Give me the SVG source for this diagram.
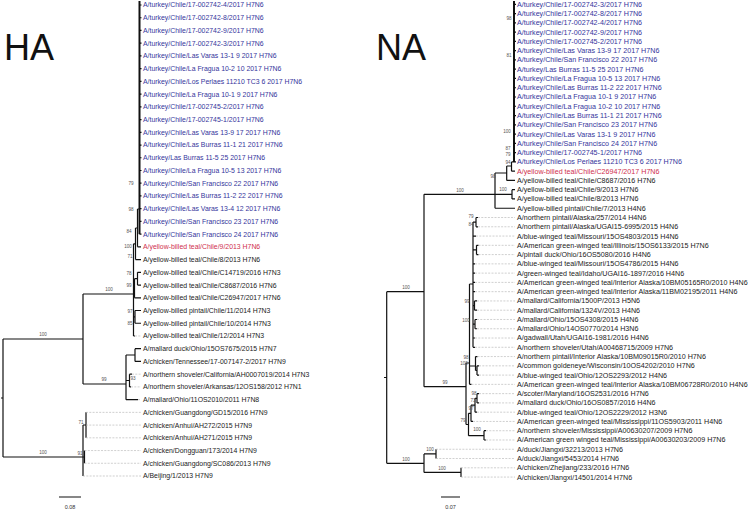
<svg xmlns="http://www.w3.org/2000/svg" width="750" height="511" viewBox="0 0 750 511">
<style>
.lb{font-family:"Liberation Sans",Arial,sans-serif;font-size:6.9px;fill:#222}
.na{font-size:7.15px}
.bl{fill:#35359c}
.rd{fill:#cf2f4e}
.sp{font-family:"Liberation Sans",Arial,sans-serif;font-size:4.6px;fill:#555;text-anchor:middle}
.ti{font-family:"Liberation Sans",Arial,sans-serif;font-size:36px;fill:#111}
.sc{font-family:"Liberation Sans",Arial,sans-serif;font-size:5.5px;fill:#333;text-anchor:middle}
.br{stroke:#111;stroke-width:1.2;fill:none}
.bt{stroke:#111;stroke-width:2;fill:none}
.ds{stroke:#b0b0b0;stroke-width:0.6;fill:none;stroke-dasharray:2 1.3}
</style>
<rect width="750" height="511" fill="#fff"/>
<text class="ti" x="4" y="60">HA</text>
<text class="ti" x="376" y="60">NA</text>

<g id="connectors">
<!-- HA tree -->
<path class="br" d="M1,398H3M3,339V457M3,339H83M83,294V384M83,294H133.5M83,384H126M3,457H83M83,425V476M83,425H86M86,412.36V437.82M83,457H84.5M84.5,450.55V463.28"/>
<path class="bt" d="M139.5,1V234.14"/>
<path class="br" d="M139.5,5H141.5M139.5,17.73H141.5M139.5,30.46H141.5M139.5,43.19H141.5M139.5,55.92H141.5M139.5,68.65H141.5M139.5,81.38H141.5M139.5,94.11H141.5M139.5,106.84H141.5M139.5,119.57H141.5M139.5,132.3H141.5M139.5,145.03H141.5M139.5,157.76H141.5M139.5,170.49H141.5M139.5,183.22H141.5M139.5,195.95H141.5M139.5,208.68H141.5M139.5,221.41H141.5M139.5,234.14H141.5"/>
<path class="br" d="M137.5,209V246.87M137.5,209H139.5M137.5,246.87H141M135.5,228V259.6M135.5,228H137.5M135.5,259.6H141M133.5,243.8V335.98M133.5,243.8H135.5M133.5,288H134.5M134.5,278.7V297.79M134.5,278.7H137.5M137.5,272.33V285.06M137.5,272.33H141M137.5,285.06H141M134.5,297.79H141M133.5,316.9H135M135,310.52V323.25M135,310.52H141M135,323.25H141M133.5,335.98H135"/>
<path class="br" d="M126,355V399.63M126,355H135M135,348.71V361.44M135,348.71H141M135,361.44H141M126,380.5H129.5M129.5,374.17V386.9M129.5,374.17H132M129.5,386.9H131M126,399.63H138"/>
<path class="ds" d="M135,335.98H141M132,374.17H141M131,386.9H141M138,399.63H141M86,412.36H141M86,425.09H141M86,437.82H141M84.5,450.55H141M84.5,463.28H141M83,476H141"/>
<!-- NA tree -->
<path class="br" d="M384,377.5H386.7M386.7,291.7V463.3M386.7,291.7H424M424,194.3V386.7M424,194.3H495M424,386.7H466M386.7,463.3H424M424,453.9V472.4M424,453.9H436M436,449.26V458.53M424,472.4H461M461,467.8V477.07"/>
<path class="br" d="M495,173V208.24M495,173H506.7M495,194.3H512M512,189.7V198.97M512,189.7H515M512,198.97H515M495,208.24H515M506.7,166V180.43M506.7,166H511.5M506.7,180.43H515M511.5,161.89V171.16M511.5,161.89H514M511.5,171.16H515"/>
<path class="bt" d="M514,1V161.89"/>
<path class="br" d="M514,4.3H516M514,13.57H516M514,22.84H516M514,32.11H516M514,41.38H516M514,50.65H516M514,59.92H516M514,69.19H516M514,78.46H516M514,87.73H516M514,97H516M514,106.27H516M514,115.54H516M514,124.81H516M514,134.08H516M514,143.35H516M514,152.62H516M514,161.89H516"/>
<path class="br" d="M466,363V424.5M466,363H469.5M469.5,284V384.37M469.5,284H473M469.5,366H475.5M469.5,384.37H471.5M473,222.1V347.29M473,222.1H476M476,217.51V226.78M476,217.51H478M476,226.78H478M473,236.05H476M473,249.95H476.5M476.5,245.32V254.59M476.5,245.32H478.5M476.5,254.59H478.5M473,263.86H475M473,273.13H475M473,282.4H475M473,291.67H475M473,305.6H474.5M474.5,300.94V310.21M474.5,300.94H477M474.5,310.21H477M473,324.1H475M475,319.48V328.75M475,319.48H477M475,328.75H477M473,338.02H475M473,347.29H475M475.5,356.56V370.5M475.5,356.56H477.5M475.5,370.5H477M477,365.83V375.1M477,365.83H479M477,375.1H479"/>
<path class="br" d="M466,424.5H468.5M468.5,413.3V435.7M468.5,413.3H471M471,405.2V421.45M471,405.2H475M471,421.45H473M475,398.3V412.18M475,398.3H477M475,412.18H477M477,393.64V402.91M477,393.64H479M477,402.91H479M468.5,435.7H484M484,430.72V439.99M484,430.72H486M484,439.99H486"/>
<path class="ds" d="M478,217.51H515M478,226.78H515M476,236.05H515M478.5,245.32H515M478.5,254.59H515M475,263.86H515M475,273.13H515M475,282.4H515M475,291.67H515M477,300.94H515M477,310.21H515M477,319.48H515M477,328.75H515M475,338.02H515M475,347.29H515M477.5,356.56H515M479,365.83H515M479,375.1H515M471.5,384.37H515M479,393.64H515M479,402.91H515M477,412.18H515M473,421.45H515M486,430.72H515M486,439.99H515M436,449.26H515M436,458.53H515M461,467.8H515M461,477.07H515"/>
<!-- scale bars -->
<path class="br" d="M59,497H81M441,497H460"/>
</g>

<g id="support-ha">
<text class="sp" x="131" y="184.6">79</text>
<text class="sp" x="131" y="210.6">98</text>
<text class="sp" x="129" y="232.6">84</text>
<text class="sp" x="128" y="247.6">100</text>
<text class="sp" x="130" y="257.6">71</text>
<text class="sp" x="129" y="274.6">78</text>
<text class="sp" x="129" y="286.6">99</text>
<text class="sp" x="130" y="312.6">97</text>
<text class="sp" x="130" y="324.6">85</text>
<text class="sp" x="133" y="379.6">93</text>
<text class="sp" x="43" y="335.6">100</text>
<text class="sp" x="109" y="290.6">100</text>
<text class="sp" x="104" y="380.6">99</text>
<text class="sp" x="81" y="423.6">71</text>
<text class="sp" x="80" y="454.6">91</text>
<text class="sp" x="43" y="453.6">100</text>
</g>
<g id="support-na">
<text class="sp" x="509" y="19.6">98</text>
<text class="sp" x="509" y="56.6">81</text>
<text class="sp" x="507" y="132.6">100</text>
<text class="sp" x="508" y="149.6">87</text>
<text class="sp" x="508" y="156.1">79</text>
<text class="sp" x="508" y="163.6">94</text>
<text class="sp" x="493" y="177.6">98</text>
<text class="sp" x="503" y="190.6">100</text>
<text class="sp" x="406" y="288.6">100</text>
<text class="sp" x="460" y="191.6">100</text>
<text class="sp" x="445" y="383.6">99</text>
<text class="sp" x="406" y="460.6">100</text>
<text class="sp" x="430" y="450.6">100</text>
<text class="sp" x="442" y="469.6">100</text>
<text class="sp" x="471" y="217.6">79</text>
<text class="sp" x="471" y="225.6">84</text>
<text class="sp" x="467" y="302.6">99</text>
<text class="sp" x="466" y="321.6">100</text>
<text class="sp" x="466" y="358.6">98</text>
<text class="sp" x="464" y="364.6">100</text>
<text class="sp" x="474" y="394.6">98</text>
<text class="sp" x="473" y="401.6">73</text>
<text class="sp" x="471" y="409.6">97</text>
<text class="sp" x="463" y="421.6">79</text>
<text class="sp" x="477" y="430.6">100</text>
</g>
<g id="scales">
<text class="sc" x="70" y="509">0.08</text>
<text class="sc" x="450.5" y="509">0.07</text>
</g>

<g id="ha-01"><text class="lb bl" x="143" y="7.4">A/turkey/Chile/17-002742-4/2017 H7N6</text></g>
<g id="ha-02"><text class="lb bl" x="143" y="20.1">A/turkey/Chile/17-002742-8/2017 H7N6</text></g>
<g id="ha-03"><text class="lb bl" x="143" y="32.9">A/turkey/Chile/17-002742-9/2017 H7N6</text></g>
<g id="ha-04"><text class="lb bl" x="143" y="45.6">A/turkey/Chile/17-002742-3/2017 H7N6</text></g>
<g id="ha-05"><text class="lb bl" x="143" y="58.3">A/turkey/Chile/Las Varas 13-1 9 2017 H7N6</text></g>
<g id="ha-06"><text class="lb bl" x="143" y="71.1">A/turkey/Chile/La Fragua 10-2 10 2017 H7N6</text></g>
<g id="ha-07"><text class="lb bl" x="143" y="83.8">A/turkey/Chile/Los Perlaes 11210 TC3 6 2017 H7N6</text></g>
<g id="ha-08"><text class="lb bl" x="143" y="96.5">A/turkey/Chile/La Fragua 10-1 9 2017 H7N6</text></g>
<g id="ha-09"><text class="lb bl" x="143" y="109.2">A/turkey/Chile/17-002745-2/2017 H7N6</text></g>
<g id="ha-10"><text class="lb bl" x="143" y="122">A/turkey/Chile/17-002745-1/2017 H7N6</text></g>
<g id="ha-11"><text class="lb bl" x="143" y="134.7">A/turkey/Chile/Las Varas 13-9 17 2017 H7N6</text></g>
<g id="ha-12"><text class="lb bl" x="143" y="147.4">A/turkey/Chile/Las Burras 11-1 21 2017 H7N6</text></g>
<g id="ha-13"><text class="lb bl" x="143" y="160.2">A/turkey/Las Burras 11-5 25 2017 H7N6</text></g>
<g id="ha-14"><text class="lb bl" x="143" y="172.9">A/turkey/Chile/La Fragua 10-5 13 2017 H7N6</text></g>
<g id="ha-15"><text class="lb bl" x="143" y="185.6">A/turkey/Chile/San Francisco 22 2017 H7N6</text></g>
<g id="ha-16"><text class="lb bl" x="143" y="198.4">A/turkey/Chile/Las Burras 11-2 22 2017 H7N6</text></g>
<g id="ha-17"><text class="lb bl" x="143" y="211.1">A/turkey/Chile/Las Varas 13-4 12 2017 H7N6</text></g>
<g id="ha-18"><text class="lb bl" x="143" y="223.8">A/turkey/Chile/San Francisco 23 2017 H7N6</text></g>
<g id="ha-19"><text class="lb bl" x="143" y="236.5">A/turkey/Chile/San Francisco 24 2017 H7N6</text></g>
<g id="ha-20"><text class="lb rd" x="143" y="249.3">A/yellow-billed teal/Chile/9/2013 H7N6</text></g>
<g id="ha-21"><text class="lb" x="143" y="262">A/yellow-billed teal/Chile/8/2013 H7N6</text></g>
<g id="ha-22"><text class="lb" x="143" y="274.7">A/yellow-billed teal/Chile/C14719/2016 H7N3</text></g>
<g id="ha-23"><text class="lb" x="143" y="287.5">A/yellow-billed teal/Chile/C8687/2016 H7N6</text></g>
<g id="ha-24"><text class="lb" x="143" y="300.2">A/yellow-billed teal/Chile/C26947/2017 H7N6</text></g>
<g id="ha-25"><text class="lb" x="143" y="312.9">A/yellow-billed pintail/Chile/11/2014 H7N3</text></g>
<g id="ha-26"><text class="lb" x="143" y="325.7">A/yellow-billed pintail/Chile/10/2014 H7N3</text></g>
<g id="ha-27"><text class="lb" x="143" y="338.4">A/yellow-billed teal/Chile/12/2014 H7N3</text></g>
<g id="ha-28"><text class="lb" x="143" y="351.1">A/mallard duck/Ohio/15OS7675/2015 H7N7</text></g>
<g id="ha-29"><text class="lb" x="143" y="363.8">A/chicken/Tennessee/17-007147-2/2017 H7N9</text></g>
<g id="ha-30"><text class="lb" x="143" y="376.6">A/northern shoveler/California/AH0007019/2014 H7N3</text></g>
<g id="ha-31"><text class="lb" x="143" y="389.3">A/northern shoveler/Arkansas/12OS158/2012 H7N1</text></g>
<g id="ha-32"><text class="lb" x="143" y="402">A/mallard/Ohio/11OS2010/2011 H7N8</text></g>
<g id="ha-33"><text class="lb" x="143" y="414.8">A/chicken/Guangdong/GD15/2016 H7N9</text></g>
<g id="ha-34"><text class="lb" x="143" y="427.5">A/chicken/Anhui/AH272/2015 H7N9</text></g>
<g id="ha-35"><text class="lb" x="143" y="440.2">A/chicken/Anhui/AH271/2015 H7N9</text></g>
<g id="ha-36"><text class="lb" x="143" y="453">A/chicken/Dongguan/173/2014 H7N9</text></g>
<g id="ha-37"><text class="lb" x="143" y="465.7">A/chicken/Guangdong/SC086/2013 H7N9</text></g>
<g id="ha-38"><text class="lb" x="143" y="478.4">A/Beijing/1/2013 H7N9</text></g>

<g id="na-01"><text class="lb na bl" x="517" y="6.7">A/turkey/Chile/17-002742-3/2017 H7N6</text></g>
<g id="na-02"><text class="lb na bl" x="517" y="16">A/turkey/Chile/17-002742-8/2017 H7N6</text></g>
<g id="na-03"><text class="lb na bl" x="517" y="25.2">A/turkey/Chile/17-002742-4/2017 H7N6</text></g>
<g id="na-04"><text class="lb na bl" x="517" y="34.5">A/turkey/Chile/17-002742-9/2017 H7N6</text></g>
<g id="na-05"><text class="lb na bl" x="517" y="43.8">A/turkey/Chile/17-002745-2/2017 H7N6</text></g>
<g id="na-06"><text class="lb na bl" x="517" y="53.1">A/turkey/Chile/Las Varas 13-9 17 2017 H7N6</text></g>
<g id="na-07"><text class="lb na bl" x="517" y="62.3">A/turkey/Chile/San Francisco 22 2017 H7N6</text></g>
<g id="na-08"><text class="lb na bl" x="517" y="71.6">A/turkey/Las Burras 11-5 25 2017 H7N6</text></g>
<g id="na-09"><text class="lb na bl" x="517" y="80.9">A/turkey/Chile/La Fragua 10-5 13 2017 H7N6</text></g>
<g id="na-10"><text class="lb na bl" x="517" y="90.1">A/turkey/Chile/Las Burras 11-2 22 2017 H7N6</text></g>
<g id="na-11"><text class="lb na bl" x="517" y="99.4">A/turkey/Chile/La Fragua 10-1 9 2017 H7N6</text></g>
<g id="na-12"><text class="lb na bl" x="517" y="108.7">A/turkey/Chile/La Fragua 10-2 10 2017 H7N6</text></g>
<g id="na-13"><text class="lb na bl" x="517" y="117.9">A/turkey/Chile/Las Burras 11-1 21 2017 H7N6</text></g>
<g id="na-14"><text class="lb na bl" x="517" y="127.2">A/turkey/Chile/San Francisco 23 2017 H7N6</text></g>
<g id="na-15"><text class="lb na bl" x="517" y="136.5">A/turkey/Chile/Las Varas 13-1 9 2017 H7N6</text></g>
<g id="na-16"><text class="lb na bl" x="517" y="145.8">A/turkey/Chile/San Francisco 24 2017 H7N6</text></g>
<g id="na-17"><text class="lb na bl" x="517" y="155">A/turkey/Chile/17-002745-1/2017 H7N6</text></g>
<g id="na-18"><text class="lb na bl" x="517" y="164.3">A/turkey/Chile/Los Perlaes 11210 TC3 6 2017 H7N6</text></g>
<g id="na-19"><text class="lb na rd" x="517" y="173.6">A/yellow-billed teal/Chile/C26947/2017 H7N6</text></g>
<g id="na-20"><text class="lb na" x="517" y="182.8">A/yellow-billed teal/Chile/C8687/2016 H7N6</text></g>
<g id="na-21"><text class="lb na" x="517" y="192.1">A/yellow-billed teal/Chile/9/2013 H7N6</text></g>
<g id="na-22"><text class="lb na" x="517" y="201.4">A/yellow-billed teal/Chile/8/2013 H7N6</text></g>
<g id="na-23"><text class="lb na" x="517" y="210.6">A/yellow-billed pintail/Chile/7/2013 H4N6</text></g>
<g id="na-24"><text class="lb na" x="517" y="219.9">A/northern pintail/Alaska/257/2014 H4N6</text></g>
<g id="na-25"><text class="lb na" x="517" y="229.2">A/northern pintail/Alaska/UGAI15-6995/2015 H4N6</text></g>
<g id="na-26"><text class="lb na" x="517" y="238.5">A/blue-winged teal/Missouri/15OS4803/2015 H4N6</text></g>
<g id="na-27"><text class="lb na" x="517" y="247.7">A/American green-winged teal/Illinois/15OS6133/2015 H7N6</text></g>
<g id="na-28"><text class="lb na" x="517" y="257">A/pintail duck/Ohio/16OS5080/2016 H4N6</text></g>
<g id="na-29"><text class="lb na" x="517" y="266.3">A/blue-winged teal/Missouri/15OS4786/2015 H4N6</text></g>
<g id="na-30"><text class="lb na" x="517" y="275.5">A/green-winged teal/Idaho/UGAI16-1897/2016 H4N6</text></g>
<g id="na-31"><text class="lb na" x="517" y="284.8">A/American green-winged teal/Interior Alaska/10BM05165R0/2010 H4N6</text></g>
<g id="na-32"><text class="lb na" x="517" y="294.1">A/American green-winged teal/Interior Alaska/11BM02195/2011 H4N6</text></g>
<g id="na-33"><text class="lb na" x="517" y="303.3">A/mallard/California/1500P/2013 H5N6</text></g>
<g id="na-34"><text class="lb na" x="517" y="312.6">A/mallard/California/1324V/2013 H4N6</text></g>
<g id="na-35"><text class="lb na" x="517" y="321.9">A/mallard/Ohio/15OS4308/2015 H4N6</text></g>
<g id="na-36"><text class="lb na" x="517" y="331.2">A/mallard/Ohio/14OS0770/2014 H3N6</text></g>
<g id="na-37"><text class="lb na" x="517" y="340.4">A/gadwall/Utah/UGAI16-1981/2016 H4N6</text></g>
<g id="na-38"><text class="lb na" x="517" y="349.7">A/northern shoveler/Utah/A00468715/2009 H7N6</text></g>
<g id="na-39"><text class="lb na" x="517" y="359">A/northern pintail/Interior Alaska/10BM09015R0/2010 H7N6</text></g>
<g id="na-40"><text class="lb na" x="517" y="368.2">A/common goldeneye/Wisconsin/10OS4202/2010 H7N6</text></g>
<g id="na-41"><text class="lb na" x="517" y="377.5">A/blue-winged teal/Ohio/12OS2293/2012 H4N6</text></g>
<g id="na-42"><text class="lb na" x="517" y="386.8">A/American green-winged teal/Interior Alaska/10BM06728R0/2010 H4N6</text></g>
<g id="na-43"><text class="lb na" x="517" y="396">A/scoter/Maryland/16OS2531/2016 H7N6</text></g>
<g id="na-44"><text class="lb na" x="517" y="405.3">A/mallard duck/Ohio/16OS0857/2016 H4N6</text></g>
<g id="na-45"><text class="lb na" x="517" y="414.6">A/blue-winged teal/Ohio/12OS2229/2012 H3N6</text></g>
<g id="na-46"><text class="lb na" x="517" y="423.9">A/American green-winged teal/Mississippi/11OS5903/2011 H4N6</text></g>
<g id="na-47"><text class="lb na" x="517" y="433.1">A/northern shoveler/Mississippi/A00630207/2009 H7N6</text></g>
<g id="na-48"><text class="lb na" x="517" y="442.4">A/American green winged teal/Mississippi/A00630203/2009 H7N6</text></g>
<g id="na-49"><text class="lb na" x="517" y="451.7">A/duck/Jiangxi/32213/2013 H7N6</text></g>
<g id="na-50"><text class="lb na" x="517" y="460.9">A/duck/Jiangxi/5453/2014 H7N6</text></g>
<g id="na-51"><text class="lb na" x="517" y="470.2">A/chicken/Zhejiang/233/2016 H7N6</text></g>
<g id="na-52"><text class="lb na" x="517" y="479.5">A/chicken/Jiangxi/14501/2014 H7N6</text></g>
</svg>
